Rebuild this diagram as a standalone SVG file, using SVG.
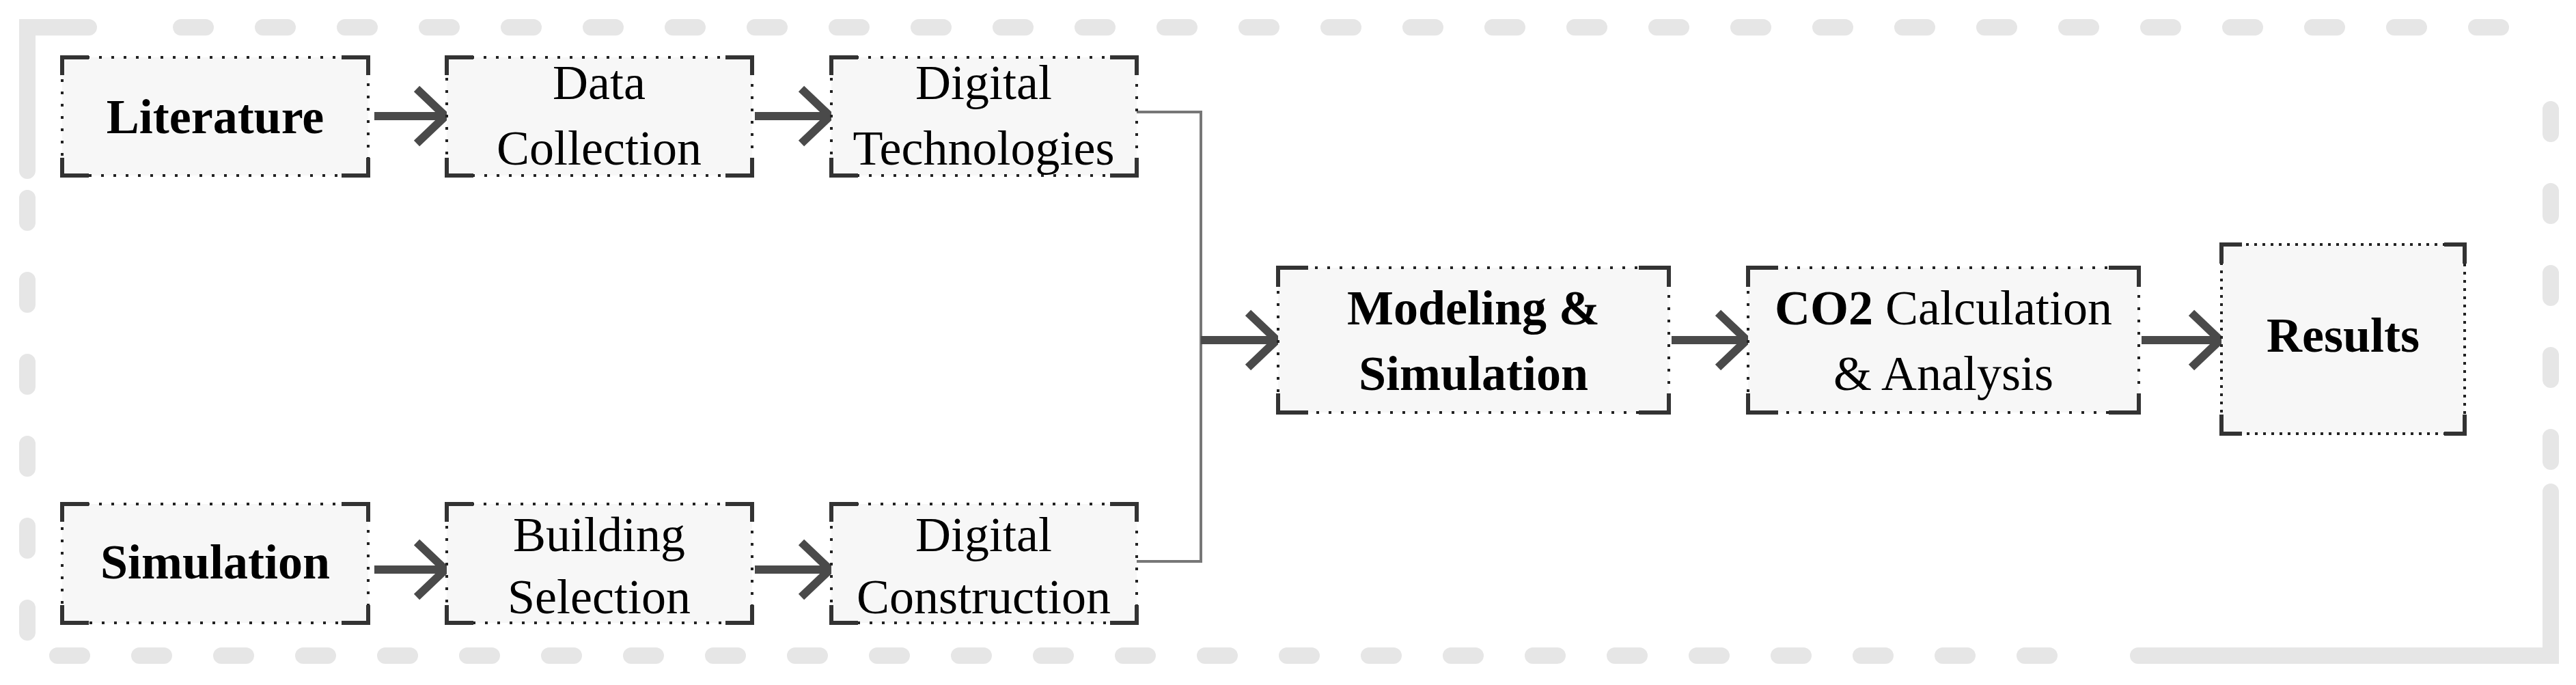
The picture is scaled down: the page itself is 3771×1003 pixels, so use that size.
<svg xmlns="http://www.w3.org/2000/svg" width="3771" height="1003" viewBox="0 0 3771 1003">
<style>
.frame{fill:none;stroke:#e6e6e6;stroke-width:24;stroke-linecap:round}
.fd{fill:none;stroke:#e6e6e6;stroke-width:24;stroke-linecap:round;stroke-dasharray:36 84}
.box{fill:#f7f7f7;stroke:#222;stroke-width:4;stroke-dasharray:4 14}
.cor{fill:none;stroke:#333;stroke-width:6}
.t{font-family:"Liberation Serif",serif;font-size:72px;fill:#000;text-anchor:middle}
.b{font-weight:bold}
.arr{fill:none;stroke:#4a4a4a;stroke-width:12}
.ln{fill:none;stroke:#777;stroke-width:4}
</style>
<g id="frame">
<path class="frame" d="M40,250 V40 H130"/>
<path class="frame" d="M3734,720 V960 H3130"/>
<path class="fd" d="M265,40 H3734"/>
<path class="fd" d="M3734,160 V720"/>
<path class="fd" d="M3000,960 H40"/>
<path class="fd" d="M40,290 V960"/>
</g>
<g id="connectors">
<path class="arr" d="M548,170 H650 M610,130 L652,170 L610,210"/>
<path class="arr" d="M1105,170 H1213 M1173,130 L1215,170 L1173,210"/>
<path class="arr" d="M548,834 H650 M610,794 L652,834 L610,874"/>
<path class="arr" d="M1105,834 H1213 M1173,794 L1215,834 L1173,874"/>
<path class="ln" d="M1664,164 H1758 V822 H1664"/>
<path class="arr" d="M1758,498 H1867 M1827,458 L1869,498 L1827,538"/>
<path class="arr" d="M2447,498 H2555 M2515,458 L2557,498 L2515,538"/>
<path class="arr" d="M3135,498 H3248 M3208,458 L3250,498 L3208,538"/>
</g>
<g id="literature">
<rect class="box" x="91" y="84" width="448" height="173"/>
<path class="cor" d="M91,110 V84 H130 M500,84 H539 V110 M91,231 V257 H130 M500,257 H539 V231"/>
<text class="t b" x="315" y="195">Literature</text>
</g>
<g id="data-collection">
<rect class="box" x="654" y="84" width="447" height="173"/>
<path class="cor" d="M654,110 V84 H693 M1062,84 H1101 V110 M654,231 V257 H693 M1062,257 H1101 V231"/>
<text class="t" x="877" y="145">Data</text>
<text class="t" x="877" y="241">Collection</text>
</g>
<g id="digital-technologies">
<rect class="box" x="1217" y="84" width="447" height="173"/>
<path class="cor" d="M1217,110 V84 H1256 M1625,84 H1664 V110 M1217,231 V257 H1256 M1625,257 H1664 V231"/>
<text class="t" x="1440" y="145">Digital</text>
<text class="t" x="1440" y="241">Technologies</text>
</g>
<g id="simulation">
<rect class="box" x="91" y="738" width="448" height="174"/>
<path class="cor" d="M91,764 V738 H130 M500,738 H539 V764 M91,886 V912 H130 M500,912 H539 V886"/>
<text class="t b" x="315" y="847">Simulation</text>
</g>
<g id="building-selection">
<rect class="box" x="654" y="738" width="447" height="174"/>
<path class="cor" d="M654,764 V738 H693 M1062,738 H1101 V764 M654,886 V912 H693 M1062,912 H1101 V886"/>
<text class="t" x="877" y="807">Building</text>
<text class="t" x="877" y="898">Selection</text>
</g>
<g id="digital-construction">
<rect class="box" x="1217" y="738" width="447" height="174"/>
<path class="cor" d="M1217,764 V738 H1256 M1625,738 H1664 V764 M1217,886 V912 H1256 M1625,912 H1664 V886"/>
<text class="t" x="1440" y="807">Digital</text>
<text class="t" x="1440" y="898">Construction</text>
</g>
<g id="modeling-simulation">
<rect class="box" x="1871" y="392" width="572" height="212"/>
<path class="cor" d="M1871,420 V392 H1915 M2399,392 H2443 V420 M1871,576 V604 H1915 M2399,604 H2443 V576"/>
<text class="t b" x="2157" y="475">Modeling &amp;</text>
<text class="t b" x="2157" y="571">Simulation</text>
</g>
<g id="co2-calculation">
<rect class="box" x="2559" y="392" width="572" height="212"/>
<path class="cor" d="M2559,420 V392 H2603 M3087,392 H3131 V420 M2559,576 V604 H2603 M3087,604 H3131 V576"/>
<text class="t" x="2845" y="475"><tspan class="b">CO2</tspan> Calculation</text>
<text class="t" x="2845" y="571">&amp; Analysis</text>
</g>
<g id="results">
<rect class="box" x="3252" y="358" width="356" height="277" style="stroke-dasharray:4 8"/>
<path class="cor" d="M3252,386 V358 H3282 M3578,358 H3608 V386 M3252,607 V635 H3282 M3578,635 H3608 V607"/>
<text class="t b" x="3430" y="515">Results</text>
</g>
</svg>
